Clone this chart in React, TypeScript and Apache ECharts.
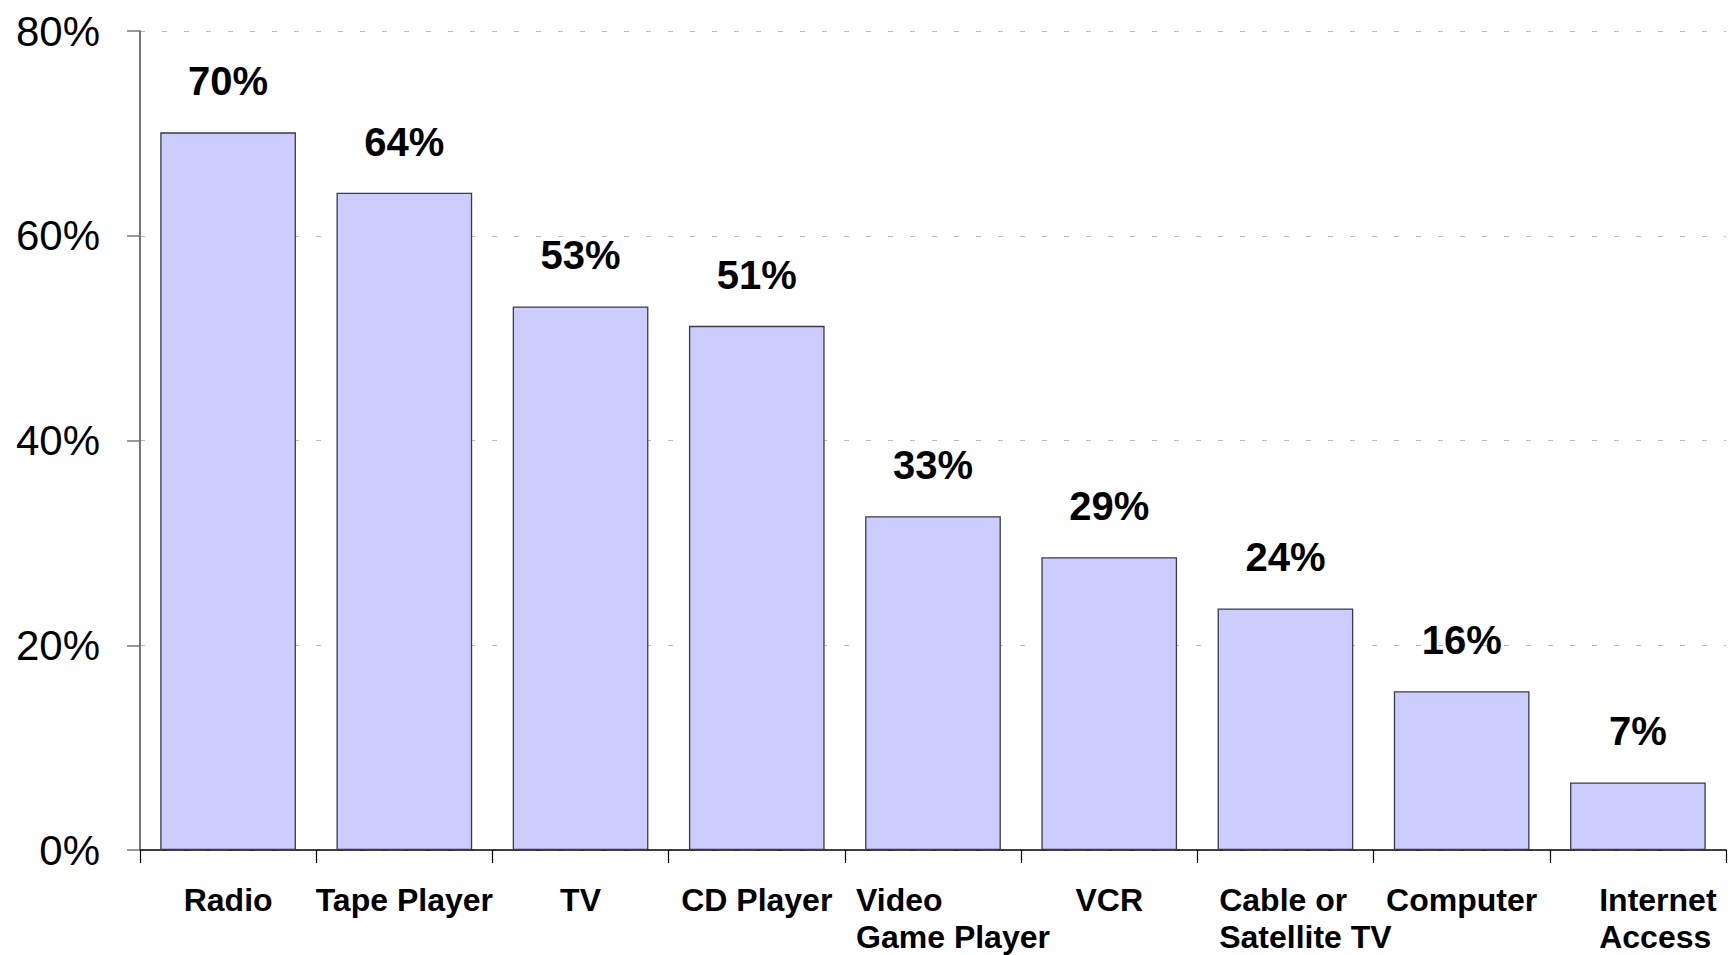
import React, { useEffect, useRef } from "react";
import * as echarts from "echarts";

const categories = [
  "Radio",
  "Tape Player",
  "TV",
  "CD Player",
  "Video\nGame Player",
  "VCR",
  "Cable or\nSatellite TV",
  "Computer",
  "Internet\nAccess",
];
const values = [70.1, 64.2, 53.1, 51.2, 32.6, 28.6, 23.6, 15.5, 6.6];
const yTicks = [0, 20, 40, 60, 80];

const FONT = "'Liberation Sans', Arial, Helvetica, sans-serif";

export default function App() {
  const ref = useRef<HTMLDivElement>(null);
  useEffect(() => {
    if (!ref.current) return;
    const chart = echarts.init(ref.current, null, { renderer: "svg" });
    chart.setOption({
      animation: false,
      backgroundColor: "#ffffff",
      grid: { left: 140, right: 6, top: 31, bottom: 103, containLabel: false },
      xAxis: {
        type: "category",
        data: categories,
        boundaryGap: true,
        axisLine: { show: true, lineStyle: { color: "#000", width: 1.5 } },
        axisTick: { show: true, length: 13, lineStyle: { color: "#000", width: 1.2 } },
        axisLabel: {
          interval: 0,
          margin: 31,
          color: "#000",
          fontFamily: FONT,
          fontWeight: "bold",
          fontSize: 32,
          lineHeight: 37,
          formatter: (v: string) =>
            v.indexOf("\n") >= 0
              ? v
                  .split("\n")
                  .map((s) => "{l|" + s + "}")
                  .join("\n")
              : v,
          rich: {
            l: {
              align: "left",
              padding: [0, 0, 0, 40],
              fontFamily: FONT,
              fontWeight: "bold",
              fontSize: 32,
              lineHeight: 37,
              color: "#000",
            },
          },
        },
      },
      yAxis: {
        type: "value",
        min: yTicks[0],
        max: yTicks[yTicks.length - 1],
        interval: 20,
        axisLine: { show: true, lineStyle: { color: "#444", width: 1.5 } },
        axisTick: { show: true, length: 13, lineStyle: { color: "#777", width: 1.5 } },
        axisLabel: {
          margin: 40,
          color: "#000",
          fontFamily: FONT,
          fontSize: 42,
          formatter: (v: number) => v + "%",
        },
        splitLine: {
          show: true,
          lineStyle: { color: "#bbb", width: 1.2, type: [5, 17] },
        },
      },
      series: [
        {
          type: "bar",
          data: values,
          barWidth: "77%",
          itemStyle: { color: "#ccccff", borderColor: "#3a3a48", borderWidth: 1.3 },
          label: {
            show: true,
            position: "top",
            distance: 31,
            color: "#000",
            fontFamily: FONT,
            fontWeight: "bold",
            fontSize: 40,
            formatter: (p: any) => Math.round(p.value) + "%",
          },
        },
      ],
    });
    return () => chart.dispose();
  }, []);
  return (
    <div
      ref={ref}
      style={{ position: "fixed", left: 0, top: 0, width: 1732, height: 955, background: "#fff" }}
    />
  );
}
